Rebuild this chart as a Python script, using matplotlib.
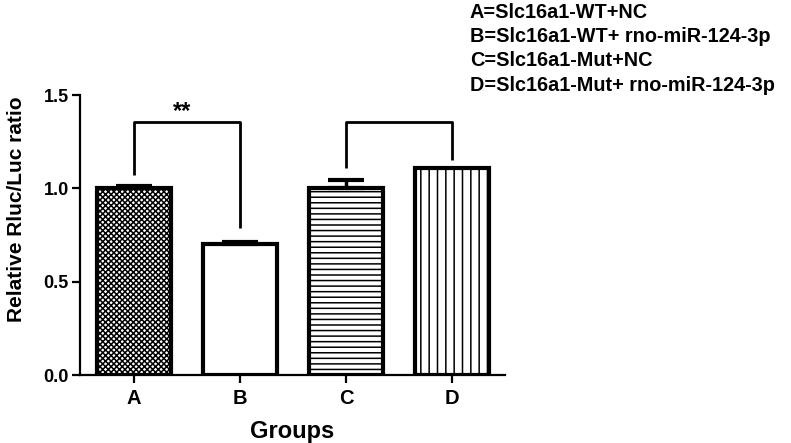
import numpy as np
import matplotlib
matplotlib.use("Agg")
import matplotlib.pyplot as plt

plt.rcParams['font.family'] = ['Liberation Sans', 'DejaVu Sans']
plt.rcParams['font.weight'] = 'bold'
plt.rcParams['hatch.linewidth'] = 1.1

# Data
groups = ["A", "B", "C", "D"]
values = [1.0, 0.70, 1.0, 1.11]
errors = [0.012, 0.015, 0.045, 0.0]
hatches = ["xxxxxx", "", "---", "||"]
legend_lines = [
    "A=Slc16a1-WT+NC",
    "B=Slc16a1-WT+ rno-miR-124-3p",
    "C=Slc16a1-Mut+NC",
    "D=Slc16a1-Mut+ rno-miR-124-3p",
]
# brackets: (left index, right index, left leg bottom, right leg bottom, label)
brackets = [(0, 1, 1.07, 0.79, "**"), (2, 3, 1.11, 1.15, "")]
bracket_top = 1.355

fig = plt.figure(figsize=(7.91, 4.43), dpi=100)
ax = fig.add_axes([80 / 791, 1 - 375 / 443, 425 / 791, 280 / 443])

x = np.arange(len(groups))
for xi, v, e, h in zip(x, values, errors, hatches):
    ax.bar(xi, v, width=0.69, facecolor="white", edgecolor="black",
           linewidth=3, hatch=h, zorder=2)
    if e > 0:
        ax.errorbar(xi, v, yerr=[[0], [e]], fmt="none", ecolor="black",
                    elinewidth=2.5, capsize=13, capthick=3, zorder=3)

for i, j, yl, yr, lab in brackets:
    ax.plot([i, i, j, j], [yl, bracket_top, bracket_top, yr], color="black",
            linewidth=2, solid_capstyle="butt", zorder=3)
    if lab:
        ax.text((i + j) / 2 - 0.05, bracket_top - 0.005, lab, ha="center",
                va="bottom", fontsize=17, fontweight="bold")

ax.set_xlim(-0.51, 3.5)
ax.set_ylim(0, 1.5)
ax.set_yticks([0.0, 0.5, 1.0, 1.5])
ax.set_yticklabels(["0.0", "0.5", "1.0", "1.5"])
ax.set_xticks(x)
ax.set_xticklabels(groups)
for s in ["top", "right"]:
    ax.spines[s].set_visible(False)
ax.spines["left"].set_linewidth(1.6)
ax.spines["bottom"].set_linewidth(1.6)
ax.tick_params(axis="y", width=1.6, length=6, labelsize=13, pad=2)
ax.tick_params(axis="x", width=1.6, length=6, labelsize=14.5, pad=4)
for t in ax.get_xticklabels() + ax.get_yticklabels():
    t.set_fontweight("bold")
ax.set_ylabel("Relative Rluc/Luc ratio", fontsize=15, fontweight="bold")
ax.yaxis.set_label_coords(-0.127, 0.593)
ax.set_xlabel("Groups", fontsize=17, fontweight="bold", labelpad=9)

for k, line in enumerate(legend_lines):
    fig.text(470 / 791, 1 - (12 + 24.5 * k) / 443, line, ha="left", va="center",
             fontsize=14.3, fontweight="bold")

fig.savefig("out.png", dpi=100)
